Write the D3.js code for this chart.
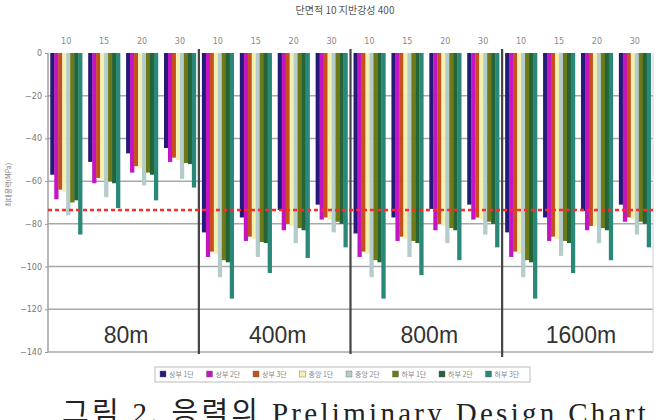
<!DOCTYPE html>
<html>
<head>
<meta charset="utf-8">
<script src="https://cdn.jsdelivr.net/npm/d3@7"></script>
<style>
  body { margin: 0; background: #fff; }
  svg { display: block; }
</style>
</head>
<body>
<script>
var width = 664;
var height = 420;

// 그룹 (상단 눈금)
var groups = ["10","15","20","30","10","15","20","30","10","15","20","30","10","15","20","30"];
var sections = ["80m", "400m", "800m", "1600m"];
var seriesNames = ["상부 1단", "상부 2단", "상부 3단", "중앙 1단", "중앙 2단", "하부 1단", "하부 2단", "하부 3단"];
var seriesColors = ["#241a78", "#c414c4", "#c4501e", "#f4f0b0", "#b4cccc", "#6e7a18", "#246438", "#2a8878"];

var s1 = [-57, -51, -47, -44.5, -84, -77, -73.5, -71, -84.5, -77, -73, -71, -84, -77, -74, -71];
var s2 = [-68.5, -61, -56, -51, -95.5, -88, -83, -78, -95.5, -88, -83, -78, -95.5, -88, -83, -79];
var s3 = [-64, -58.5, -53, -49, -93, -86, -80, -77, -93, -86, -80, -77, -93, -86, -81, -77];
var s4 = [-65, -59, -54, -50, -94, -87, -81, -78, -94, -87, -81, -78, -94, -87, -81, -78];
var s5 = [-76, -67.5, -62, -59, -105, -95.5, -89, -84, -105, -95.5, -89, -85, -105, -95, -89, -85];
var s6 = [-70, -60, -56, -51.5, -97, -88.5, -82, -79, -97, -88, -82, -79, -97, -88, -82, -79];
var s7 = [-69, -61, -57, -52, -98, -89, -83, -80, -98, -89, -83, -80, -98, -89, -83, -80];
var s8 = [-85, -72.6, -69, -63, -115, -103, -96, -91, -115, -104, -97, -91, -115, -103, -97, -91];
var series = [s1, s2, s3, s4, s5, s6, s7, s8];

var yTicks = [0, -20, -40, -60, -80, -100, -120, -140];
var limitValue = -73.5;

var margin = {left: 48, right: 11, top: 53, bottom: 68};

var svg = d3.select("body").append("svg")
  .attr("width", width)
  .attr("height", height);

var xScale = d3.scaleBand()
  .domain(d3.range(groups.length))
  .range([margin.left, width - margin.right])
  .paddingInner(0.16)
  .paddingOuter(0.06);

var xSub = d3.scaleBand()
  .domain(d3.range(series.length))
  .range([0, xScale.bandwidth()]);

var yScale = d3.scaleLinear()
  .domain([0, -140])
  .range([margin.top, height - margin.bottom]);

// 격자선
svg.append("g").selectAll("line")
  .data(yTicks.slice(1))
  .enter().append("line")
  .attr("x1", margin.left).attr("x2", width - margin.right)
  .attr("y1", function(d){ return yScale(d); })
  .attr("y2", function(d){ return yScale(d); })
  .attr("stroke", "#a8a8a8").attr("stroke-width", 1.5);

// 왼쪽/오른쪽 테두리
svg.append("line")
  .attr("x1", margin.left).attr("x2", margin.left)
  .attr("y1", margin.top).attr("y2", yScale(-140))
  .attr("stroke", "#a0a0a0").attr("stroke-width", 1.5);
svg.append("line")
  .attr("x1", width - margin.right).attr("x2", width - margin.right)
  .attr("y1", margin.top).attr("y2", yScale(-140))
  .attr("stroke", "#d0d0d0").attr("stroke-width", 1);

// y축
var yAxis = d3.axisLeft(yScale).tickValues(yTicks).tickSize(3);
var yg = svg.append("g")
  .attr("transform", "translate(" + margin.left + ",0)")
  .call(yAxis);
yg.select(".domain").remove();
yg.selectAll("text").attr("fill", "#777").style("font-size", "8px").style("font-family", "DejaVu Sans");
yg.selectAll("line").attr("stroke", "#999");

// 상단 눈금
var xg = svg.append("g")
  .attr("transform", "translate(0," + (margin.top - 6) + ")")
  .call(d3.axisTop(xScale).tickFormat(function(i){ return groups[i]; }).tickSize(0));
xg.select(".domain").remove();
xg.selectAll("text").attr("fill", "#888").style("font-size", "8px").style("font-family", "DejaVu Sans");

// 막대
var gGroups = svg.append("g").selectAll("g")
  .data(groups)
  .enter().append("g")
  .attr("transform", function(d, i){ return "translate(" + xScale(i) + ",0)"; });

gGroups.selectAll("rect")
  .data(function(d, i){ return series.map(function(s, k){ return {k: k, v: s[i]}; }); })
  .enter().append("rect")
  .attr("x", function(d){ return xSub(d.k); })
  .attr("width", xSub.bandwidth() + 0.3)
  .attr("y", yScale(0))
  .attr("height", function(d){ return yScale(d.v) - yScale(0); })
  .attr("fill", function(d){ return seriesColors[d.k]; });

// 구간 구분선
var per = groups.length / sections.length;
var dividerX = function(j){
  var a = xScale(j * per - 1) + xScale.bandwidth();
  var b = xScale(j * per);
  return (a + b) / 2;
};
svg.append("g").selectAll("line")
  .data([1, 2, 3])
  .enter().append("line")
  .attr("x1", dividerX).attr("x2", dividerX)
  .attr("y1", margin.top - 4)
  .attr("y2", function(d){ return d === 3 ? yScale(-140) + 5 : yScale(-140) + 2; })
  .attr("stroke", "#444").attr("stroke-width", 2.2);

// 허용 기준선
svg.append("line")
  .attr("x1", margin.left).attr("x2", width - margin.right)
  .attr("y1", yScale(limitValue)).attr("y2", yScale(limitValue))
  .attr("stroke", "#ff2a2a").attr("stroke-width", 2.5)
  .attr("stroke-dasharray", "4,3");

// 구간 라벨
svg.append("g").selectAll("text")
  .data(sections)
  .enter().append("text")
  .attr("x", function(d, j){
    var a = xScale(j * per), b = xScale(j * per + per - 1) + xScale.bandwidth();
    return (a + b) / 2 + 3;
  })
  .attr("y", 343)
  .attr("text-anchor", "middle")
  .attr("fill", "#333")
  .style("font-size", "23px")
  .style("font-family", "Liberation Sans")
  .text(function(d){ return d; });

// 제목
svg.append("text")
  .attr("x", 345).attr("y", 14)
  .attr("text-anchor", "middle")
  .attr("fill", "#555")
  .style("font-size", "10px")
  .style("font-family", "Noto Sans CJK KR")
  .text("단면적 10  지반강성 400");

// y축 제목
svg.append("text")
  .attr("transform", "translate(11,185) rotate(-90)")
  .attr("text-anchor", "middle")
  .attr("fill", "#777")
  .style("font-size", "7px")
  .style("font-family", "Noto Sans CJK KR")
  .text("최대응력(MPa)");

// 범례
var legend = svg.append("g").attr("transform", "translate(155,367)");
legend.append("rect")
  .attr("width", 375).attr("height", 15)
  .attr("fill", "#fff").attr("stroke", "#bbb");
var legendItem = legend.selectAll("g")
  .data(seriesNames)
  .enter().append("g")
  .attr("transform", function(d, i){ return "translate(" + (5 + i * 46.5) + ",4)"; });
legendItem.append("rect")
  .attr("width", 6).attr("height", 6)
  .attr("fill", function(d, i){ return seriesColors[i]; })
  .attr("stroke", "#666").attr("stroke-width", 0.4);
legendItem.append("text")
  .attr("x", 9).attr("y", 6)
  .attr("fill", "#888")
  .style("font-size", "7px")
  .style("font-family", "Noto Sans CJK KR")
  .text(function(d){ return d; });

// 그림 캡션
svg.append("text")
  .attr("x", 62).attr("y", 423)
  .attr("fill", "#222")
  .style("font-size", "29px")
  .style("letter-spacing", "3.3px")
  .style("font-family", "Liberation Serif, Noto Sans CJK KR")
  .text("그림 2. 응력의 Preliminary Design Chart");
</script>
</body>
</html>
